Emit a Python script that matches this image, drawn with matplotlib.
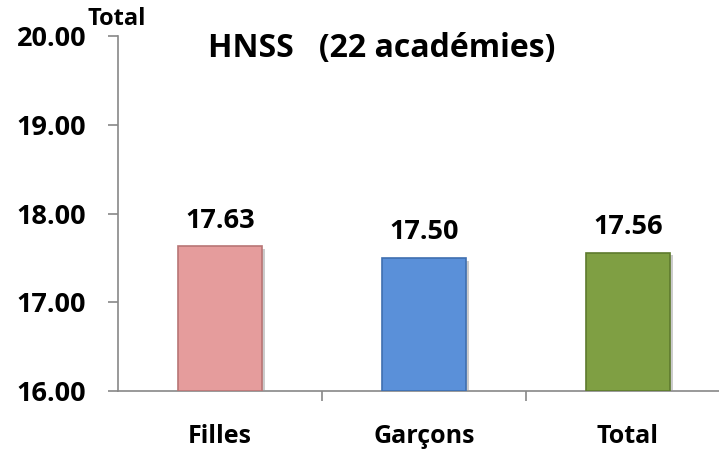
import matplotlib
matplotlib.use("Agg")
import matplotlib.pyplot as plt
import matplotlib.patheffects as pe

categories = ["Filles", "Garçons", "Total"]
values = [17.63, 17.50, 17.56]
value_labels = ["17.63", "17.50", "17.56"]
colors = ["#E59C9C", "#5A90D9", "#7F9F43"]
edge_colors = ["#B87575", "#3F6FB0", "#5E7A2E"]
yticks = [16, 17, 18, 19, 20]
ytick_labels = ["16.00", "17.00", "18.00", "19.00", "20.00"]

plt.rcParams['font.family'] = ['Open Sans', 'DejaVu Sans']
plt.rcParams['font.weight'] = 'bold'

W, H = 719, 451
fig = plt.figure(figsize=(W / 100, H / 100), dpi=100)
left = 118 / W
right = 730 / W
bottom = (H - 391) / H
top = (H - 36) / H
ax = fig.add_axes([left, bottom, right - left, top - bottom])

x = list(range(len(categories)))
bars = ax.bar(x, [v - 16 for v in values], bottom=16, width=0.41,
              color=colors, edgecolor=edge_colors, linewidth=1.2, zorder=3)
for b in bars:
    b.set_path_effects([pe.SimplePatchShadow(offset=(2, -2), shadow_rgbFace="#999999", alpha=0.5), pe.Normal()])

ax.set_xlim(-0.5, 2.5)
ax.set_ylim(16, 20)
ax.set_yticks(yticks)
ax.set_yticklabels(ytick_labels, fontsize=19.5, fontweight='bold')
ax.set_xticks(x)
ax.set_xticklabels(categories, fontsize=18, fontweight='bold')
ax.tick_params(axis='x', length=0, pad=24)
ax.tick_params(axis='y', length=7, color="#888888", width=1.2, pad=16)
ax.set_xticks([0.5, 1.5], minor=True)
ax.tick_params(axis='x', which='minor', length=7, color="#888888", width=1.2)

for s in ['top', 'right']:
    ax.spines[s].set_visible(False)
for s in ['left', 'bottom']:
    ax.spines[s].set_color("#888888")
    ax.spines[s].set_linewidth(1.2)

for xi, v, lab in zip(x, values, value_labels):
    ax.text(xi, v + 0.14, lab, ha='center', va='bottom', fontsize=19.5, fontweight='bold')

fig.text(382 / W, 1 - 48 / H, "HNSS   (22 académies)", ha='center', va='center',
         fontsize=23, fontweight='bold')
fig.text(117 / W, 1 - 19 / H, "Total", ha='center', va='center',
         fontsize=17, fontweight='bold')

fig.savefig("out.png", dpi=100)
